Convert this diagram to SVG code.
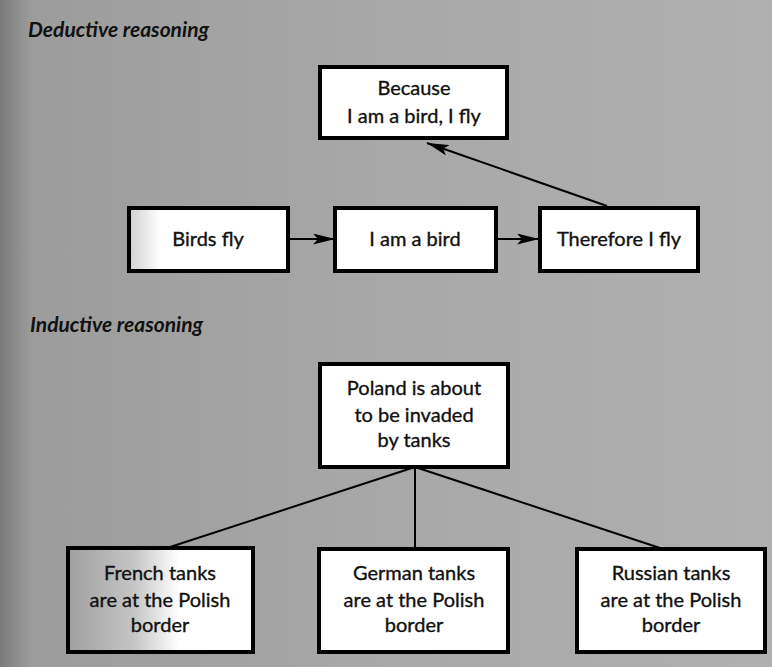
<svg xmlns="http://www.w3.org/2000/svg" width="772" height="667" viewBox="0 0 772 667">
<style>
.box{fill:#fff;stroke:#000;stroke-width:4}
.t{font-family:Lato,"Open Sans","Liberation Sans",sans-serif;font-size:20px;fill:#111;stroke:#111;stroke-width:0.35;text-anchor:middle}
.h{font-family:Lato,"Open Sans","Liberation Sans",sans-serif;font-size:21px;font-style:italic;font-weight:bold;fill:#111}
.c{stroke:#000;stroke-width:2;fill:none}
</style>
<defs>
<linearGradient id="bg" x1="0" y1="0" x2="1" y2="0">
<stop offset="0" stop-color="#7a7a7a"/>
<stop offset="0.04" stop-color="#9c9c9c"/>
<stop offset="0.5" stop-color="#a8a8a8"/>
<stop offset="1" stop-color="#b0b0b0"/>
</linearGradient>
<linearGradient id="fr" x1="0" y1="0" x2="1" y2="0">
<stop offset="0" stop-color="#a0a0a0"/>
<stop offset="0.35" stop-color="#c4c4c4"/>
<stop offset="0.6" stop-color="#ffffff"/>
</linearGradient>
<linearGradient id="bf" x1="0" y1="0" x2="1" y2="0">
<stop offset="0" stop-color="#d0d0d0"/>
<stop offset="0.2" stop-color="#ffffff"/>
</linearGradient>
<marker id="ah" viewBox="0 0 22 11" refX="22" refY="5.5" markerWidth="22" markerHeight="11" markerUnits="userSpaceOnUse" orient="auto">
<path d="M0,0 L22,5.5 L0,11 L5,5.5 Z" fill="#000"/>
</marker>
</defs>
<rect width="772" height="667" fill="url(#bg)"/>
<text class="h" x="28" y="37">Deductive reasoning</text>
<text class="h" x="30" y="332">Inductive reasoning</text>
<g id="connectors">
<line class="c" x1="288" y1="239" x2="335" y2="239" marker-end="url(#ah)"/>
<line class="c" x1="496" y1="239" x2="539" y2="239" marker-end="url(#ah)"/>
<line class="c" x1="607" y1="206" x2="427" y2="143" marker-end="url(#ah)"/>
<line class="c" x1="415" y1="467" x2="167" y2="548"/>
<line class="c" x1="415" y1="467" x2="415" y2="549"/>
<line class="c" x1="415" y1="467" x2="663" y2="549"/>
</g>
<g id="because">
<rect class="box" x="320" y="67" width="187" height="71"/>
<text class="t" x="414" y="95">Because</text>
<text class="t" x="414" y="123">I am a bird, I fly</text>
</g>
<g id="birds-fly">
<rect class="box" x="129" y="208" width="159" height="63" style="fill:url(#bf)"/>
<text class="t" x="208" y="246">Birds fly</text>
</g>
<g id="i-am-a-bird">
<rect class="box" x="335" y="208" width="161" height="63"/>
<text class="t" x="415" y="246">I am a bird</text>
</g>
<g id="therefore">
<rect class="box" x="540" y="208" width="158" height="63"/>
<text class="t" x="619" y="246">Therefore I fly</text>
</g>
<g id="poland">
<rect class="box" x="320" y="364" width="188" height="103"/>
<text class="t" x="414" y="395">Poland is about</text>
<text class="t" x="414" y="422">to be invaded</text>
<text class="t" x="414" y="447">by tanks</text>
</g>
<g id="french">
<rect class="box" x="68" y="548" width="185" height="104" style="fill:url(#fr)"/>
<text class="t" x="160" y="580">French tanks</text>
<text class="t" x="160" y="607">are at the Polish</text>
<text class="t" x="160" y="632">border</text>
</g>
<g id="german">
<rect class="box" x="319" y="549" width="189" height="103"/>
<text class="t" x="414" y="580">German tanks</text>
<text class="t" x="414" y="607">are at the Polish</text>
<text class="t" x="414" y="632">border</text>
</g>
<g id="russian">
<rect class="box" x="577" y="549" width="188" height="103"/>
<text class="t" x="671" y="580">Russian tanks</text>
<text class="t" x="671" y="607">are at the Polish</text>
<text class="t" x="671" y="632">border</text>
</g>
</svg>
